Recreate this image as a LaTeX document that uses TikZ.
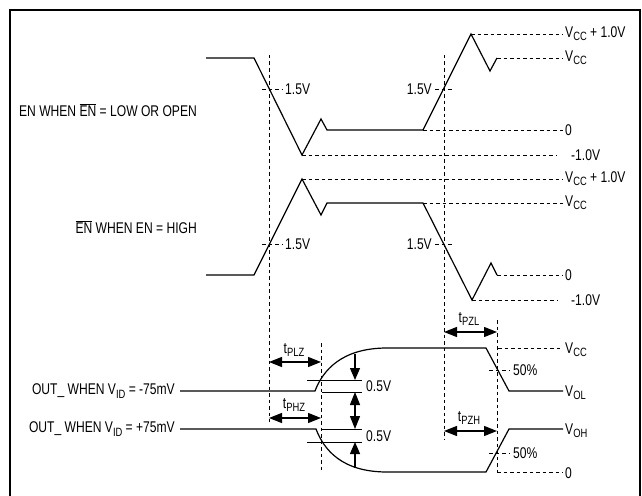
\documentclass[tikz,border=0pt]{standalone}
\usepackage{fontspec}
\setmainfont{Liberation Sans}[FakeStretch=0.78]
\usetikzlibrary{arrows.meta}
\newcommand\sbs[1]{\raisebox{-0.4ex}{\fontsize{12}{12}\selectfont #1}}
\newcommand\ovl[1]{$\overline{\mbox{#1}}$}
\tikzset{
  wave/.style={line width=1.2pt, line join=miter},
  guide/.style={line width=0.7pt, dash pattern=on 3.5pt off 3pt},
  refl/.style={line width=0.8pt},
  lbl/.style={inner sep=0pt, font=\fontsize{15.5}{16}\selectfont},
  lbll/.style={lbl, anchor=west},
  lblr/.style={lbl, anchor=east},
  dimarr/.style={line width=1.2pt, {Triangle[length=13pt,width=10pt]}-{Triangle[length=13pt,width=10pt]}},
  onearr/.style={line width=1.2pt, -{Triangle[length=12pt,width=10pt]}},
  frame/.style={line width=2pt}
}
\begin{document}
\begin{tikzpicture}[x=1pt,y=-1pt]
\useasboundingbox (0,0) rectangle (642,495);
% frame
\draw[frame] (10,500) -- (10,10) -- (640,10) -- (640,500);

% ---------- waveform 1 ----------
\draw[wave] (206,58) -- (254,58) -- (302,155) -- (321,119) -- (327,130) -- (423,130)
  -- (471,34) -- (490,71) -- (497,58);
\draw[guide] (471,34) -- (563,34);
\draw[guide] (497,58) -- (563,58);
\draw[guide] (423,130) -- (563,130);
\draw[guide] (302,155) -- (557,155);
\node[lbll] (l1a) at (565,34) {V\sbs{CC} + 1.0V};
\node[lbll] (l1b) at (565,58) {V\sbs{CC}};
\node[lbll] (l1c) at (565,130) {0};
\node[lbll] (l1d) at (571,155) {-1.0V};
\draw[guide] (262,89) -- (282,89);
\node[lbll] (t1a) at (285,89) {1.5V};
\draw[guide] (435,89) -- (453,89);
\node[lblr] (t1b) at (432,89) {1.5V};
\node[lblr] (en1) at (197,110) {EN WHEN \ovl{EN} = LOW OR OPEN};

% ---------- waveform 2 ----------
\draw[wave] (206,275) -- (254,275) -- (302,179) -- (321,215) -- (327,203) -- (423,203)
  -- (472,300) -- (491,263) -- (497,275);
\draw[guide] (302,179) -- (563,179);
\draw[guide] (423,203) -- (563,203);
\draw[guide] (497,275) -- (563,275);
\draw[guide] (472,300) -- (557,300);
\node[lbll] (l2a) at (565,179) {V\sbs{CC} + 1.0V};
\node[lbll] (l2b) at (565,203) {V\sbs{CC}};
\node[lbll] (l2c) at (565,275) {0};
\node[lbll] (l2d) at (571,300) {-1.0V};
\draw[guide] (262,244) -- (282,244);
\node[lbll] (t2a) at (285,244) {1.5V};
\draw[guide] (435,244) -- (453,244);
\node[lblr] (t2b) at (432,244) {1.5V};
\node[lblr] (en2) at (197,227) {\ovl{EN} WHEN EN = HIGH};

% ---------- vertical guides ----------
\draw[guide] (269,55) -- (269,422);
\draw[guide] (444,55) -- (444,440);
\draw[guide] (321,343) -- (321,470);
\draw[guide] (497,320) -- (497,472);

% ---------- outputs ----------
\node[lblr] (o1) at (175,391) {OUT\_ WHEN V\sbs{ID} = -75mV};
\node[lblr] (o2) at (175,429) {OUT\_ WHEN V\sbs{ID} = +75mV};
\draw[wave] (180,391) -- (315,391) .. controls (323,370) and (342,348) .. (387,348)
  -- (486,348) -- (509,391) -- (563,391);
\draw[wave] (180,429) -- (316,429) .. controls (324,450) and (342,472) .. (387,472)
  -- (486,472) -- (509,429) -- (563,429);
\draw[guide] (498,348) -- (563,348);
\draw[guide] (497,472) -- (563,472);
\node[lbll] (l3a) at (565,350) {V\sbs{CC}};
\node[lbll] (l3b) at (565,393) {V\sbs{OL}};
\node[lbll] (l3c) at (565,431) {V\sbs{OH}};
\node[lbll] (l3d) at (565,473) {0};
\draw[guide] (489,370) -- (510,370);
\node[lbll] (p1) at (513,370) {50\%};
\draw[guide] (489,453) -- (510,453);
\node[lbll] (p2) at (513,453) {50\%};

% 0.5V reference lines
\draw[refl] (307,380) -- (362,380);
\draw[refl] (322,392) -- (362,392);
\draw[refl] (322,429) -- (362,429);
\draw[refl] (307,442) -- (362,442);
\node[lbll] (h1) at (366,386) {0.5V};
\node[lbll] (h2) at (366,436) {0.5V};

% vertical arrows
\coordinate (va1) at (355,354);
\coordinate (va2) at (355,380);
\coordinate (vb1) at (355,392);
\coordinate (vb2) at (355,429);
\coordinate (vc1) at (355,468);
\coordinate (vc2) at (355,442);
\draw[onearr] (va1) -- (va2);
\draw[dimarr] (vb1) -- (vb2);
\draw[onearr] (vc1) -- (vc2);

% timing arrows
\coordinate (plzA) at (269,362);
\coordinate (plzB) at (321,362);
\coordinate (phzA) at (269,418);
\coordinate (phzB) at (321,418);
\coordinate (pzlA) at (444,332);
\coordinate (pzlB) at (497,332);
\coordinate (pzhA) at (444,431);
\coordinate (pzhB) at (497,431);
\draw[dimarr] (plzA) -- (plzB);
\draw[dimarr] (phzA) -- (phzB);
\draw[dimarr] (pzlA) -- (pzlB);
\draw[dimarr] (pzhA) -- (pzhB);
\node[lbl] (tplz) at (294,350) {t\sbs{PLZ}};
\node[lbl] (tphz) at (294,405) {t\sbs{PHZ}};
\node[lbl] (tpzl) at (469,319) {t\sbs{PZL}};
\node[lbl] (tpzh) at (469,418) {t\sbs{PZH}};
\end{tikzpicture}
\end{document}
